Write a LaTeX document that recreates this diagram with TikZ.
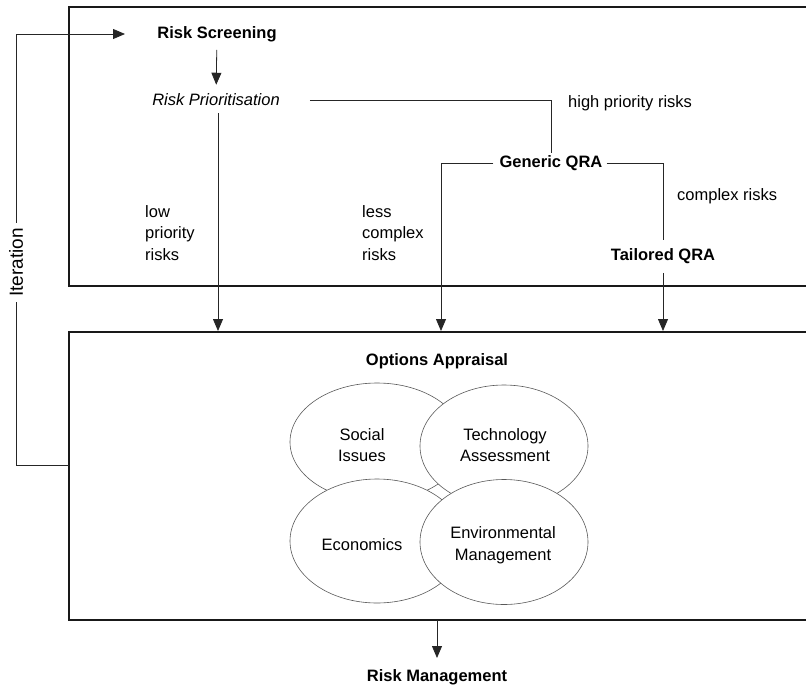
\documentclass[tikz,border=0pt]{standalone}
\usepackage{fontspec}
\setmainfont{Liberation Sans}
\usetikzlibrary{arrows.meta,calc,shapes.geometric}
\tikzset{
  txt/.style={font=\fontsize{16.5}{21.5}\selectfont, inner sep=2pt},
  bld/.style={txt, font=\fontsize{16.5}{21.5}\selectfont\bfseries},
  lbl/.style={txt, align=left, anchor=west},
  conn/.style={line width=0.8pt, draw=black!85},
  arr/.style={conn, -{Triangle[length=12pt,width=10pt]}},
  frame/.style={line width=1.8pt, draw=black!90},
  area/.style={ellipse, draw=black!65, line width=0.6pt, fill=white, inner sep=0pt}
}
\begin{document}
\begin{tikzpicture}[x=1pt,y=-1pt]
\useasboundingbox (0,0) rectangle (806,691);

% the two stage frames (they run off the right edge)
\draw[frame] (820,7) -- (69,7) -- (69,286) -- (820,286);
\draw[frame] (820,332) -- (69,332) -- (69,620) -- (820,620);

% upper stage: screening and quantitative risk assessment
\node[bld] (rs) at (217,34) {Risk Screening};
\node[txt, font=\fontsize{16.5}{21.5}\selectfont\itshape] (rp) at (216,100) {Risk Prioritisation};
\node[bld] (gq) at (551,163) {Generic QRA};
\node[bld] (tq) at (663,256) {Tailored QRA};

\node[txt, anchor=west] (hp) at (566,103) {high priority risks};
\node[txt, anchor=west] (cr) at (675,196) {complex risks};
\node[lbl] (lp) at (143,233) {low\\priority\\risks};
\node[lbl] (lc) at (360,233) {less\\complex\\risks};

% lower stage: options appraisal
\node[bld] (oa) at (437,361) {Options Appraisal};
\coordinate (inA) at (218,331);
\coordinate (inB) at (441,331);
\coordinate (inC) at (663,331);

\node[area, minimum width=174pt, minimum height=118pt] (soc) at (377,442) {};
\node[area, minimum width=168pt, minimum height=122pt] (tec) at (504,446) {};
\node[area, minimum width=174pt, minimum height=124pt] (eco) at (377,541) {};
\node[area, minimum width=168pt, minimum height=125pt] (env) at (504,542) {};
\node[txt, align=center] (socT) at (362,445) {Social\\Issues};
\node[txt, align=center] (tecT) at (505,445) {Technology\\Assessment};
\node[txt, align=center] (ecoT) at (362,545) {Economics};
\node[txt, align=center] (envT) at (503,545) {Environmental\\Management};

\node[bld] (rm) at (437,677) {Risk Management};
\coordinate (outA) at (437,620);
\coordinate (outB) at (437,658);

% connectors
\draw[arr, shorten <=6pt, shorten >=7pt] (rs) -- (rp);
\draw[conn] ([xshift=28pt]rp.east) -| (gq.north);
\draw[arr, shorten <=5pt] (rp.south -| inA) -- (inA);
\draw[arr] ([xshift=-4pt]gq.west) -| (inB);
\draw[conn, shorten >=6pt] ([xshift=2pt]gq.east) -| (tq.north);
\draw[arr, shorten <=7pt] (tq.south) -- (inC);
\draw[arr] (outA) -- (outB);

% iteration loop back to screening
\coordinate (itFrom) at (69,465);
\coordinate (itTo) at (125,34);
\draw[arr] (itFrom) -- (16,465) -- node[pos=0.47, fill=white, rotate=90, font=\fontsize{19}{22}\selectfont, inner sep=5pt] (it) {Iteration} (16,34) -- (itTo);
\end{tikzpicture}
\end{document}
